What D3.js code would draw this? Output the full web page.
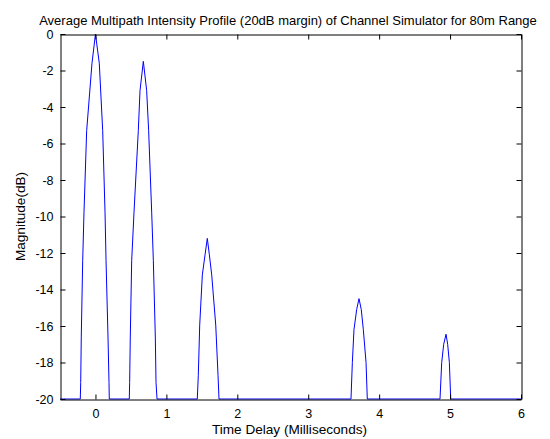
<!DOCTYPE html>
<html>
<head>
<meta charset="utf-8">
<title>Average Multipath Intensity Profile</title>
<script src="https://d3js.org/d3.v7.min.js"></script>
<style>
  body { margin: 0; background: #fff; }
  svg text { font-family: Arial, "Liberation Sans", sans-serif; fill: #000; }
</style>
</head>
<body>
<div id="chart"></div>
<script>
// Data: vertices of the profile (time in ms, magnitude in dB)
var timeMs = [-0.5,
  -0.214, -0.208, -0.200, -0.180, -0.162, -0.124, -0.049, 0.000, 0.054, 0.102, 0.135, 0.149, 0.177, 0.191, 0.195,
  0.477, 0.482, 0.491, 0.511, 0.543, 0.604, 0.628, 0.675, 0.722, 0.750, 0.793, 0.816, 0.844, 0.854, 0.868,
  1.436, 1.450, 1.470, 1.507, 1.545, 1.577, 1.606, 1.639, 1.696, 1.728, 1.742,
  3.603, 3.622, 3.645, 3.683, 3.716, 3.748, 3.777, 3.815, 3.833,
  4.858, 4.882, 4.910, 4.943, 4.966, 4.990, 5.009,
  6.0];
var magDb = [-20,
  -20, -19.1, -16.6, -12.4, -9.8, -5.3, -1.6, 0, -1.6, -5.3, -9.8, -12.4, -16.6, -19.1, -20,
  -20, -19.1, -16.6, -12.4, -9.8, -5.3, -3.1, -1.5, -3.1, -5.3, -9.8, -12.4, -16.6, -19.1, -20,
  -20, -18.7, -15.95, -13.2, -12.1, -11.2, -12.1, -13.2, -15.95, -18.7, -20,
  -20, -18.0, -16.2, -15.1, -14.5, -15.1, -16.2, -18.0, -20,
  -20, -18.0, -17.0, -16.45, -17.0, -18.0, -20,
  -20];
var xTicks = [0, 1, 2, 3, 4, 5, 6];
var yTicks = [0, -2, -4, -6, -8, -10, -12, -14, -16, -18, -20];

var titleText = "Average Multipath Intensity Profile (20dB margin) of Channel Simulator for 80m Range";
var xLabel = "Time Delay (Milliseconds)";
var yLabel = "Magnitude(dB)";

var width = 550, height = 439;
var plotLeft = 60, plotRight = 521, plotTop = 34, plotBottom = 399;
var tickLen = 5;

var svg = d3.select("#chart").append("svg")
  .attr("width", width)
  .attr("height", height);

var x = d3.scaleLinear().domain([-0.5, 6]).range([plotLeft, plotRight]);
var y = d3.scaleLinear().domain([-20, 0]).range([plotBottom, plotTop]);

// plain hyphen for negatives, like the original
var fmt = function (d) { return String(d); };

// Profile line
var points = timeMs.map(function (t, i) { return [t, magDb[i]]; });
svg.append("path")
  .datum(points)
  .attr("fill", "none")
  .attr("stroke", "#0000ff")
  .attr("stroke-width", 1)
  .attr("d", d3.line()
    .x(function (d) { return x(d[0]); })
    .y(function (d) { return y(d[1]); }));

// Axes (ticks pointing inward, box on)
var gx = svg.append("g")
  .attr("transform", "translate(0," + (plotBottom + 0.5) + ")")
  .call(d3.axisBottom(x).tickValues(xTicks).tickSizeInner(-tickLen).tickSizeOuter(0).tickPadding(10).tickFormat(fmt));
var gxTop = svg.append("g")
  .attr("transform", "translate(0," + (plotTop + 0.5) + ")")
  .call(d3.axisTop(x).tickValues(xTicks).tickSizeInner(-tickLen).tickSizeOuter(0).tickFormat(""));
var gy = svg.append("g")
  .attr("transform", "translate(" + (plotLeft + 0.5) + ",0)")
  .call(d3.axisLeft(y).tickValues(yTicks).tickSizeInner(-tickLen).tickSizeOuter(0).tickPadding(7).tickFormat(fmt));
var gyRight = svg.append("g")
  .attr("transform", "translate(" + (plotRight + 0.5) + ",0)")
  .call(d3.axisRight(y).tickValues(yTicks).tickSizeInner(-tickLen).tickSizeOuter(0).tickFormat(""));

svg.selectAll(".domain").attr("stroke", "#000").attr("stroke-width", 1);
svg.selectAll(".tick line").attr("stroke", "#000");
svg.selectAll(".tick text").attr("font-size", 12.5).attr("font-family", "Arial, 'Liberation Sans', sans-serif");
gx.selectAll(".tick text").attr("dy", "0.71em");

// Title and labels
svg.append("text")
  .attr("x", 288)
  .attr("y", 25)
  .attr("text-anchor", "middle")
  .attr("font-size", 13)
  .text(titleText);

svg.append("text")
  .attr("x", (plotLeft + plotRight) / 2 - 1)
  .attr("y", 434)
  .attr("text-anchor", "middle")
  .attr("font-size", 13.6)
  .text(xLabel);

svg.append("text")
  .attr("transform", "translate(25," + ((plotTop + plotBottom) / 2) + ") rotate(-90)")
  .attr("text-anchor", "middle")
  .attr("font-size", 13.6)
  .text(yLabel);
</script>
</body>
</html>
